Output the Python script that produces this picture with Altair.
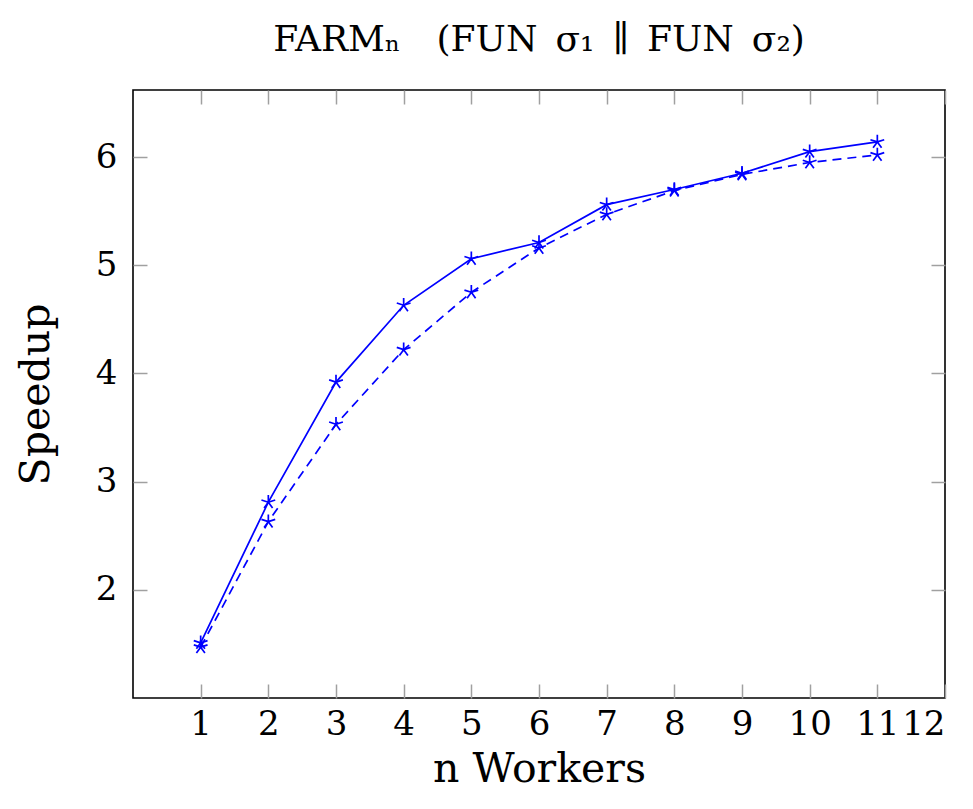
import altair as alt
import pandas as pd

workers = [1, 2, 3, 4, 5, 6, 7, 8, 9, 10, 11]
speedup_solid = [1.51, 2.81, 3.92, 4.63, 5.06, 5.21, 5.56, 5.70, 5.85, 6.05, 6.14]
speedup_dashed = [1.47, 2.63, 3.53, 4.22, 4.75, 5.16, 5.47, 5.69, 5.84, 5.95, 6.02]
x_ticks = [1, 2, 3, 4, 5, 6, 7, 8, 9, 10, 11, 12]
y_ticks = [2, 3, 4, 5, 6]

df_solid = pd.DataFrame({"n": workers, "s": speedup_solid})
df_dashed = pd.DataFrame({"n": workers, "s": speedup_dashed})

FONT = "DejaVu Serif"
BLUE = "#0000ff"
TICK = "#a0a0a0"
ASTERISK = ("M0,0L0,-1M0,0L-0.951,-0.309M0,0L-0.588,0.809"
            "M0,0L0.588,0.809M0,0L0.951,-0.309")

xscale = alt.Scale(domain=[0, 12], nice=False, zero=False)
yscale = alt.Scale(domain=[1.0, 6.62], nice=False, zero=False)

common_axis = dict(domain=False, grid=False, tickSize=14, offset=-14,
                   tickColor=TICK, tickWidth=1.5, labelOverlap=False,
                   labelFont=FONT, labelFontSize=34, labelColor="black",
                   titleFont=FONT, titleFontSize=41, titleFontWeight="normal",
                   titleColor="black")

x_bottom = alt.Axis(orient="bottom", values=x_ticks, title="n Workers",
                    labelPadding=9, titlePadding=8, **common_axis)
y_left = alt.Axis(orient="left", values=y_ticks, title="Speedup",
                  labelPadding=16, titlePadding=38, **common_axis)
x_top = alt.Axis(orient="top", values=x_ticks, title=None, labels=False,
                 **common_axis)
y_right = alt.Axis(orient="right", values=y_ticks, title=None, labels=False,
                   **common_axis)

solid_line = alt.Chart(df_solid).mark_line(color=BLUE, strokeWidth=1.7).encode(
    x=alt.X("n:Q", scale=xscale, axis=x_bottom),
    y=alt.Y("s:Q", scale=yscale, axis=y_left),
)
dashed_line = alt.Chart(df_dashed).mark_line(
    color=BLUE, strokeWidth=1.7, strokeDash=[9, 6]
).encode(
    x=alt.X("n:Q", scale=xscale, axis=x_top),
    y=alt.Y("s:Q", scale=yscale, axis=y_right),
)
solid_pts = alt.Chart(df_solid).mark_point(
    shape=ASTERISK, filled=False, color=BLUE, size=210, strokeWidth=1.7, opacity=1
).encode(
    x=alt.X("n:Q", scale=xscale, axis=None),
    y=alt.Y("s:Q", scale=yscale, axis=None),
)
dashed_pts = alt.Chart(df_dashed).mark_point(
    shape=ASTERISK, filled=False, color=BLUE, size=210, strokeWidth=1.7, opacity=1
).encode(
    x=alt.X("n:Q", scale=xscale, axis=None),
    y=alt.Y("s:Q", scale=yscale, axis=None),
)

chart = alt.layer(solid_line, dashed_line, solid_pts, dashed_pts).resolve_axis(
    x="independent", y="independent"
).properties(
    width=812,
    height=608,
    autosize=alt.AutoSizeParams(type="none"),
    padding={"left": 125, "top": 82, "right": 20, "bottom": 103},
    title=alt.Title(
        "FARMₙ\u2003(FUN\u2002σ₁\u2002∥\u2002FUN\u2002σ₂)",
        font=FONT, fontSize=36, fontWeight="normal", color="black",
        anchor="middle", offset=30,
    ),
).configure(background="white").configure_view(stroke="black", strokeWidth=1.6)

chart.save("out.html", embed_options={"renderer": "svg", "actions": False})
